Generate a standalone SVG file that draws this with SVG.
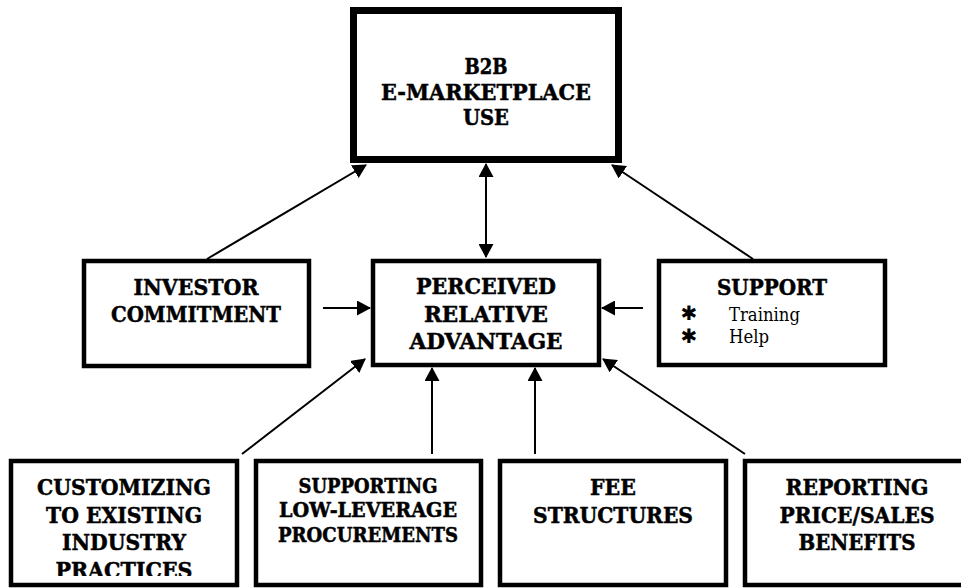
<svg xmlns="http://www.w3.org/2000/svg" width="961" height="588" viewBox="0 0 961 588">
<style>
.box{fill:#fff;stroke:#000;stroke-width:4.5}
.big{fill:#fff;stroke:#000;stroke-width:7}
text{font-family:'DejaVu Serif','Liberation Serif',serif;fill:#000}
.t{font-weight:bold;text-anchor:middle;font-size:21.5px;stroke:#000;stroke-width:0.5}
.s20{font-size:19.5px}
.r{font-size:18px}
.ast{font-family:'DejaVu Sans',sans-serif;font-size:20px;font-weight:bold;text-anchor:middle}
.c{stroke:#000;stroke-width:2;fill:none}
</style>
<defs>
<marker id="ah" markerUnits="userSpaceOnUse" markerWidth="14" markerHeight="15" viewBox="0 0 14 15" refX="13" refY="7.5" orient="auto-start-reverse">
<path d="M0,0 L14,7.5 L0,15 Z" fill="#000"/>
</marker>
<clipPath id="clipC"><rect x="0" y="455" width="250" height="121"/></clipPath>
</defs>
<rect width="961" height="588" fill="#fff"/>
<g id="connectors">
<line class="c" x1="207" y1="259" x2="366" y2="165" marker-end="url(#ah)"/>
<line class="c" x1="753" y1="259" x2="612" y2="165" marker-end="url(#ah)"/>
<line class="c" x1="486" y1="164" x2="486" y2="257" marker-start="url(#ah)" marker-end="url(#ah)"/>
<line class="c" x1="323" y1="308" x2="370" y2="308" marker-end="url(#ah)"/>
<line class="c" x1="643" y1="308" x2="602" y2="308" marker-end="url(#ah)"/>
<line class="c" x1="242" y1="454" x2="365" y2="359" marker-end="url(#ah)"/>
<line class="c" x1="432" y1="454" x2="432" y2="368" marker-end="url(#ah)"/>
<line class="c" x1="535" y1="454" x2="535" y2="368" marker-end="url(#ah)"/>
<line class="c" x1="745" y1="454" x2="603" y2="359" marker-end="url(#ah)"/>
</g>
<g id="b2b">
<rect class="big" x="353.5" y="10.5" width="265" height="149"/>
<text class="t" x="486" y="74" textLength="43" lengthAdjust="spacingAndGlyphs">B2B</text>
<text class="t" x="486" y="99.5" textLength="210" lengthAdjust="spacingAndGlyphs">E-MARKETPLACE</text>
<text class="t" x="486" y="125" textLength="46" lengthAdjust="spacingAndGlyphs">USE</text>
</g>
<g id="investor">
<rect class="box" x="84" y="261" width="225" height="105"/>
<text class="t" x="196" y="295" textLength="125" lengthAdjust="spacingAndGlyphs">INVESTOR</text>
<text class="t" x="196" y="322" textLength="170" lengthAdjust="spacingAndGlyphs">COMMITMENT</text>
</g>
<g id="perceived">
<rect class="box" x="373" y="261" width="226" height="104"/>
<text class="t" x="486" y="294" textLength="140" lengthAdjust="spacingAndGlyphs">PERCEIVED</text>
<text class="t" x="486" y="322" textLength="124" lengthAdjust="spacingAndGlyphs">RELATIVE</text>
<text class="t" x="486" y="349" textLength="153" lengthAdjust="spacingAndGlyphs">ADVANTAGE</text>
</g>
<g id="support">
<rect class="box" x="659" y="261" width="226" height="104"/>
<text class="t" x="772" y="295" textLength="110" lengthAdjust="spacingAndGlyphs">SUPPORT</text>
<text class="ast" x="689" y="320">✱</text>
<text class="r" x="729" y="321" textLength="71" lengthAdjust="spacingAndGlyphs">Training</text>
<text class="ast" x="689" y="343">✱</text>
<text class="r" x="729" y="343" textLength="40" lengthAdjust="spacingAndGlyphs">Help</text>
</g>
<g id="customizing">
<rect class="box" x="11" y="461" width="226" height="124"/>
<g clip-path="url(#clipC)">
<text class="t" x="124" y="495" textLength="174" lengthAdjust="spacingAndGlyphs">CUSTOMIZING</text>
<text class="t" x="124" y="523" textLength="156" lengthAdjust="spacingAndGlyphs">TO EXISTING</text>
<text class="t" x="124" y="550" textLength="124" lengthAdjust="spacingAndGlyphs">INDUSTRY</text>
<text class="t" x="124" y="578" textLength="137" lengthAdjust="spacingAndGlyphs">PRACTICES</text>
</g>
</g>
<g id="supporting">
<rect class="box" x="256" y="461" width="225" height="124"/>
<text class="t s20" x="368" y="493" textLength="139" lengthAdjust="spacingAndGlyphs">SUPPORTING</text>
<text class="t s20" x="368" y="517" textLength="178" lengthAdjust="spacingAndGlyphs">LOW-LEVERAGE</text>
<text class="t s20" x="368" y="542" textLength="180" lengthAdjust="spacingAndGlyphs">PROCUREMENTS</text>
</g>
<g id="fee">
<rect class="box" x="500" y="461" width="226" height="124"/>
<text class="t" x="613" y="495" textLength="46" lengthAdjust="spacingAndGlyphs">FEE</text>
<text class="t" x="613" y="523" textLength="160" lengthAdjust="spacingAndGlyphs">STRUCTURES</text>
</g>
<g id="reporting">
<rect class="box" x="745" y="461" width="230" height="124"/>
<text class="t" x="857" y="495" textLength="143" lengthAdjust="spacingAndGlyphs">REPORTING</text>
<text class="t" x="857" y="523" textLength="155" lengthAdjust="spacingAndGlyphs">PRICE/SALES</text>
<text class="t" x="857" y="550" textLength="117" lengthAdjust="spacingAndGlyphs">BENEFITS</text>
</g>
</svg>
